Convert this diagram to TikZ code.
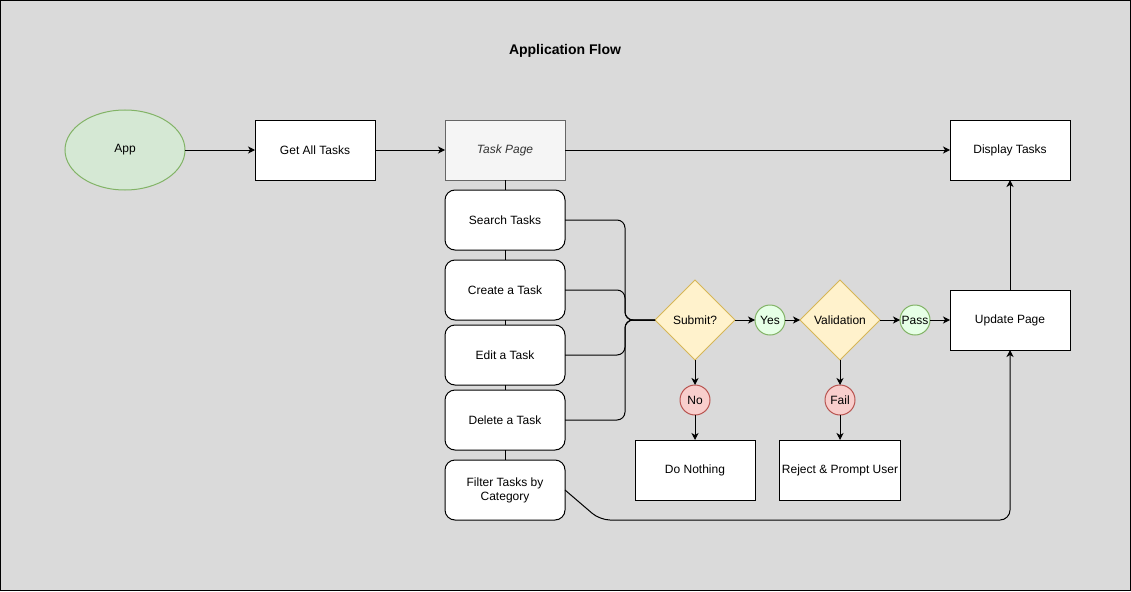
\documentclass[tikz,border=0pt]{standalone}
\usepackage{fontspec}
\setmainfont{Liberation Sans}
\usetikzlibrary{shapes.geometric, arrows.meta, positioning}
\definecolor{canvas}{HTML}{DADADA}
\definecolor{goodfill}{HTML}{D5E8D4}
\definecolor{goodline}{HTML}{82B366}
\definecolor{okfill}{HTML}{E6FFE6}
\definecolor{badfill}{HTML}{F8CECC}
\definecolor{badline}{HTML}{B85450}
\definecolor{askfill}{HTML}{FFF2CC}
\definecolor{askline}{HTML}{D6B656}
\definecolor{pagefill}{HTML}{F5F5F5}
\definecolor{pageline}{HTML}{666666}
\definecolor{pagetext}{HTML}{333333}

\begin{document}
\begin{tikzpicture}[
    x=1pt, y=-1pt,
    font=\fontsize{12}{14}\selectfont,
    box/.style={rectangle, draw=black, fill=white, line width=1pt, outer sep=0pt,
                minimum width=120pt, minimum height=60pt, align=center, inner sep=2pt},
    actbox/.style={box, rounded corners=10pt},
    pagebox/.style={box, draw=pageline, fill=pagefill, text=pagetext,
                    font=\fontsize{12}{14}\selectfont\itshape},
    startnode/.style={ellipse, draw=goodline, fill=goodfill, line width=1pt, outer sep=0pt,
                      minimum width=120pt, minimum height=80pt},
    ask/.style={diamond, aspect=1, draw=askline, fill=askfill, line width=1pt,
                outer sep=0pt, minimum size=80pt, inner sep=0pt},
    yesdot/.style={circle, draw=goodline, fill=okfill, line width=1pt, outer sep=0pt,
                   minimum size=30pt, inner sep=0pt},
    nodot/.style={circle, draw=badline, fill=badfill, line width=1pt, outer sep=0pt,
                  minimum size=30pt, inner sep=0pt},
    arrow/.style={-{Stealth[length=7pt, width=7pt, inset=2pt]}, line width=1pt},
    link/.style={line width=1pt, rounded corners=8pt}
]

% Canvas
\useasboundingbox (0,0) rectangle (1131,591);
\draw[fill=canvas, line width=1pt] (0.5,0.5) rectangle (1130.5,590.5);
\node[font=\fontsize{14}{16}\selectfont\bfseries] (title) at (565,51) {Application Flow};

% Top row
\node[startnode] (app) at (125,150) {App};
\node[box, right=70pt of app] (getall) {Get All Tasks};
\node[pagebox, right=70pt of getall] (taskpage) {Task Page};
\node[box] (display) at (1010,150) {Display Tasks};

% Page actions
\node[actbox, below=10pt of taskpage] (search) {Search Tasks};
\node[actbox, below=10pt of search] (create) {Create a Task};
\node[actbox, below=5pt of create] (edit) {Edit a Task};
\node[actbox, below=5pt of edit] (delete) {Delete a Task};
\node[actbox, below=10pt of delete] (filter) {Filter Tasks by\\Category};

% Decisions
\node[ask] (submit) at (695,320) {Submit?};
\node[yesdot, right=20pt of submit] (yes) {Yes};
\node[ask, right=15pt of yes] (valid) {Validation};
\node[yesdot, right=20pt of valid] (pass) {Pass};
\node[box, right=20pt of pass] (update) {Update Page};
\node[nodot, below=25pt of submit] (no) {No};
\node[box, below=25pt of no] (nothing) {Do Nothing};
\node[nodot, below=25pt of valid] (fail) {Fail};
\node[box, below=25pt of fail, minimum width=118pt] (reject) {Reject \& Prompt User};
\coordinate (join) at (625,320);

% Arrows
\draw[arrow] (app) -- (getall);
\draw[arrow] (getall) -- (taskpage);
\draw[arrow] (taskpage) -- (display);
\draw[link] (taskpage) -- (search);
\draw[link] (search) -- (create);
\draw[link] (create) -- (edit);
\draw[link] (edit) -- (delete);
\draw[link] (delete) -- (filter);
\draw[link] (search.east) -| (join) -- (submit.west);
\draw[link] (create.east) -| (join) -- (submit.west);
\draw[link] (edit.east) -| (join) -- (submit.west);
\draw[link] (delete.east) -| (join) -- (submit.west);
\draw[arrow] (submit) -- (yes);
\draw[arrow] (yes) -- (valid);
\draw[arrow] (valid) -- (pass);
\draw[arrow] (pass) -- (update);
\draw[arrow] (submit) -- (no);
\draw[arrow] (no) -- (nothing);
\draw[arrow] (valid) -- (fail);
\draw[arrow] (fail) -- (reject);
\draw[arrow] (update) -- (display);
\draw[arrow, rounded corners=10pt] (filter.east) -- (600,520) -- (update.south |- 0,520) -- (update.south);

\end{tikzpicture}
\end{document}
